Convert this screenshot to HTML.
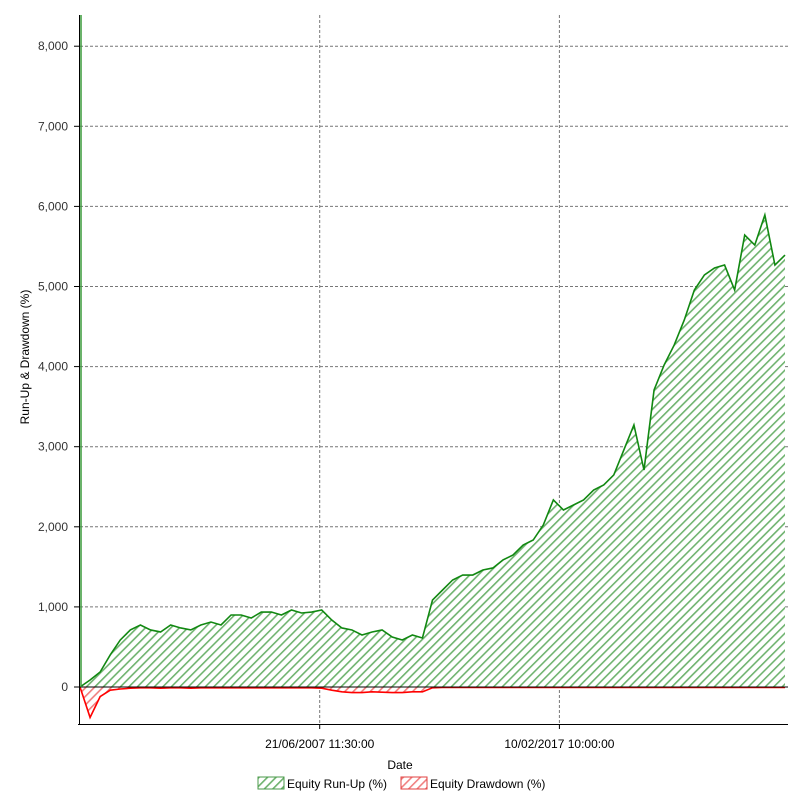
<!DOCTYPE html>
<html><head><meta charset="utf-8"><style>
body{margin:0;background:#fff;}
svg{display:block;font-family:"Liberation Sans",sans-serif;}
</style></head><body>
<svg id="chart" width="802" height="802">
<defs>
<pattern id="hg" width="6" height="6" patternUnits="userSpaceOnUse" patternTransform="rotate(45)">
<rect width="6" height="6" fill="#fff"/><rect x="0" width="1.6" height="6" fill="#6fb36f"/></pattern>
<pattern id="hr" width="6" height="6" patternUnits="userSpaceOnUse" patternTransform="rotate(45)">
<rect width="6" height="6" fill="#fff"/><rect x="0" width="1.6" height="6" fill="#f08080"/></pattern>
</defs>
<g id="grid"></g>
<g id="series"></g>
<g id="axes"></g>
<text x="400" y="769" font-size="12" text-anchor="middle">Date</text>
<text transform="translate(29,357) rotate(-90)" font-size="12" text-anchor="middle">Run-Up &amp; Drawdown (%)</text>
<g>
<rect x="258" y="777" width="26" height="12" fill="url(#hg)" stroke="#4a9a4a"/>
<text x="287" y="788" font-size="12">Equity Run-Up (%)</text></g>
<g>
<rect x="401" y="777" width="26" height="12" fill="url(#hr)" stroke="#e04040"/>
<text x="430" y="788" font-size="12">Equity Drawdown (%)</text></g>
</svg>
<script>
const runUp=[0,87,187,400,587,712,774,712,687,774,737,712,774,811,774,899,899,861,936,936,899,961,924,936,961,836,737,712,649,687,712,624,587,649,612,1086,1211,1336,1398,1398,1461,1486,1586,1648,1773,1835,2022,2335,2210,2272,2335,2459,2522,2647,2959,3271,2709,3708,4020,4270,4582,4956,5144,5231,5268,4956,5643,5518,5893,5268,5393];
const drawdown=[0,-380,-120,-40,-25,-15,-10,-10,-15,-10,-10,-15,-10,-10,-10,-10,-10,-10,-10,-10,-10,-10,-10,-10,-15,-40,-60,-70,-70,-60,-65,-70,-70,-60,-60,-10,-5,-5,-5,-5,-5,-5,-5,-5,-5,-5,-5,-5,-5,-5,-5,-5,-5,-5,-5,-5,-5,-5,-5,-5,-5,-5,-5,-5,-5,-5,-5,-5,-5,-5,-5];
const yTicks=[0,1000,2000,3000,4000,5000,6000,7000,8000];
const yTickLabels=["0","1,000","2,000","3,000","4,000","5,000","6,000","7,000","8,000"];
const xTickIdx=[23.8,47.6];
const xTickLabels=["21/06/2007 11:30:00","10/02/2017 10:00:00"];
const NS="http://www.w3.org/2000/svg";
const X0=80,X1=785,Y0=687,PPU=0.0801;
const n=runUp.length;
function xs(i){return X0+(X1-X0)*i/(n-1);}
function ys(v){return Y0-v*PPU;}
function mk(t,a,p){const e=document.createElementNS(NS,t);for(const k in a)e.setAttribute(k,a[k]);(p||document.getElementById('chart')).appendChild(e);return e;}
const grid=document.getElementById('grid'),ser=document.getElementById('series'),ax=document.getElementById('axes');
yTicks.forEach((v,i)=>{
 if(v>0){const l=mk('line',{x1:X0,x2:788,y1:ys(v),y2:ys(v),stroke:'#777','stroke-dasharray':'3,2'},grid);
 
 }
 mk('line',{x1:74,x2:80,y1:ys(v),y2:ys(v),stroke:'#000'},ax);
 const t=mk('text',{x:68,y:ys(v)+4,'font-size':12,'text-anchor':'end',fill:'#333'},ax);t.textContent=yTickLabels[i];
 
 
});
xTickIdx.forEach((ix,i)=>{
 const x=xs(ix);
 const l=mk('line',{x1:x,x2:x,y1:15,y2:724,stroke:'#777','stroke-dasharray':'3,2'},grid);
 
 
 mk('line',{x1:x,x2:x,y1:724,y2:729,stroke:'#000'},ax);
 const t=mk('text',{x:x,y:748,'font-size':12,'text-anchor':'middle'},ax);t.textContent=xTickLabels[i];
 
 
});
let p='M'+X0+','+Y0,pl='';
runUp.forEach((v,i)=>{p+=' L'+xs(i)+','+ys(v);pl+=(i?' L':'M')+xs(i)+','+ys(v);});
p+=' L'+X1+','+Y0+' Z';
const a=mk('path',{d:p,fill:'url(#hg)',stroke:'none'},ser);


const ln=mk('path',{d:pl,fill:'none',stroke:'#118811','stroke-width':1.6},ser);


let q='M'+X0+','+Y0,ql='';
drawdown.forEach((v,i)=>{q+=' L'+xs(i)+','+ys(v);ql+=(i?' L':'M')+xs(i)+','+ys(v);});
q+=' L'+X1+','+Y0+' Z';
const b=mk('path',{d:q,fill:'url(#hr)',stroke:'none'},ser);


const dl=mk('path',{d:ql,fill:'none',stroke:'#ff0000','stroke-width':1.6},ser);


mk('line',{x1:X0,x2:788,y1:Y0,y2:Y0,stroke:'#000'},ax);
mk('line',{x1:79.5,x2:79.5,y1:15,y2:724,stroke:'#000'},ax);
mk('line',{x1:78,x2:788,y1:724.5,y2:724.5,stroke:'#000'},ax);
mk('line',{x1:81,x2:81,y1:15,y2:687,stroke:'#3a9a3a','stroke-width':1.5},ax);
</script>
</body></html>
